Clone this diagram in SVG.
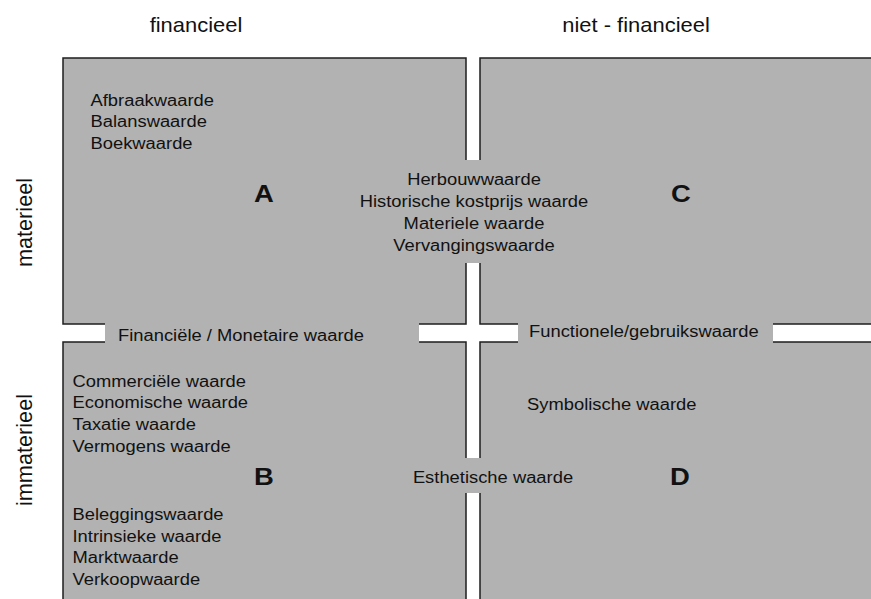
<svg xmlns="http://www.w3.org/2000/svg" width="871" height="599" viewBox="0 0 871 599">
  <style>
    .quad { fill: #b2b2b2; stroke: #1e1e1e; stroke-width: 1.5; }
    .fill { fill: #b2b2b2; stroke: none; }
    text { font-family: "Liberation Sans", Arial, Helvetica, sans-serif; font-size: 16.4px; fill: #111; }
    .mid { text-anchor: middle; }
    .head { font-size: 19.6px; text-anchor: middle; }
    .side { font-size: 21.7px; text-anchor: middle; }
    .big { font-size: 24.5px; font-weight: bold; text-anchor: middle; }
  </style>
  <rect width="871" height="599" fill="#ffffff"/>

  <!-- column and row headings (text is drawn slightly wide: scale 1.12 x) -->
  <g id="headings">
    <text class="head" transform="translate(196,32) scale(1.12,1)">financieel</text>
    <text class="head" transform="translate(636,32) scale(1.12,1)">niet - financieel</text>
    <text class="side" transform="translate(31.5,222.5) rotate(-90)">materieel</text>
    <text class="side" transform="translate(32,450) rotate(-90)">immaterieel</text>
  </g>

  <!-- four quadrants -->
  <g id="quadrant-A"><rect class="quad" x="63" y="58" width="403" height="266"/></g>
  <g id="quadrant-C"><rect class="quad" x="480" y="58" width="400" height="266"/></g>
  <g id="quadrant-B"><rect class="quad" x="63" y="342" width="403" height="270"/></g>
  <g id="quadrant-D"><rect class="quad" x="480" y="342" width="400" height="270"/></g>

  <!-- bridges across the gaps, carrying the shared labels -->
  <g id="bridges">
    <rect class="fill" x="465" y="160" width="16" height="103"/>
    <rect class="fill" x="105" y="323" width="314" height="20"/>
    <rect class="fill" x="518" y="323" width="255" height="20"/>
    <rect class="fill" x="465" y="458" width="16" height="35"/>
  </g>

  <g id="label-A">
    <text class="big" transform="translate(264,201.5) scale(1.12,1)">A</text>
    <text transform="translate(90.5,105.5) scale(1.12,1)">Afbraakwaarde</text>
    <text transform="translate(90.5,127) scale(1.12,1)">Balanswaarde</text>
    <text transform="translate(90.5,148.5) scale(1.12,1)">Boekwaarde</text>
  </g>

  <g id="label-C">
    <text class="big" transform="translate(681,201.5) scale(1.12,1)">C</text>
  </g>

  <g id="label-AC">
    <text class="mid" transform="translate(474,184.5) scale(1.12,1)">Herbouwwaarde</text>
    <text class="mid" transform="translate(474,206.5) scale(1.12,1)">Historische kostprijs waarde</text>
    <text class="mid" transform="translate(474,228.5) scale(1.12,1)">Materiele waarde</text>
    <text class="mid" transform="translate(474,250.5) scale(1.12,1)">Vervangingswaarde</text>
  </g>

  <g id="label-AB">
    <text transform="translate(118,341) scale(1.12,1)">Financiële / Monetaire waarde</text>
  </g>

  <g id="label-CD">
    <text transform="translate(529,336.5) scale(1.12,1)">Functionele/gebruikswaarde</text>
  </g>

  <g id="label-B">
    <text class="big" transform="translate(264,484.5) scale(1.12,1)">B</text>
    <text transform="translate(72.5,386.5) scale(1.12,1)">Commerciële waarde</text>
    <text transform="translate(72.5,408) scale(1.12,1)">Economische waarde</text>
    <text transform="translate(72.5,429.5) scale(1.12,1)">Taxatie waarde</text>
    <text transform="translate(72.5,451.5) scale(1.12,1)">Vermogens waarde</text>
    <text transform="translate(72.5,519.5) scale(1.12,1)">Beleggingswaarde</text>
    <text transform="translate(72.5,541.5) scale(1.12,1)">Intrinsieke waarde</text>
    <text transform="translate(72.5,563) scale(1.12,1)">Marktwaarde</text>
    <text transform="translate(72.5,585) scale(1.12,1)">Verkoopwaarde</text>
  </g>

  <g id="label-BD">
    <text class="mid" transform="translate(493,482.5) scale(1.12,1)">Esthetische waarde</text>
  </g>

  <g id="label-D">
    <text class="big" transform="translate(680,484.5) scale(1.12,1)">D</text>
    <text transform="translate(527,409.5) scale(1.12,1)">Symbolische waarde</text>
  </g>
</svg>
